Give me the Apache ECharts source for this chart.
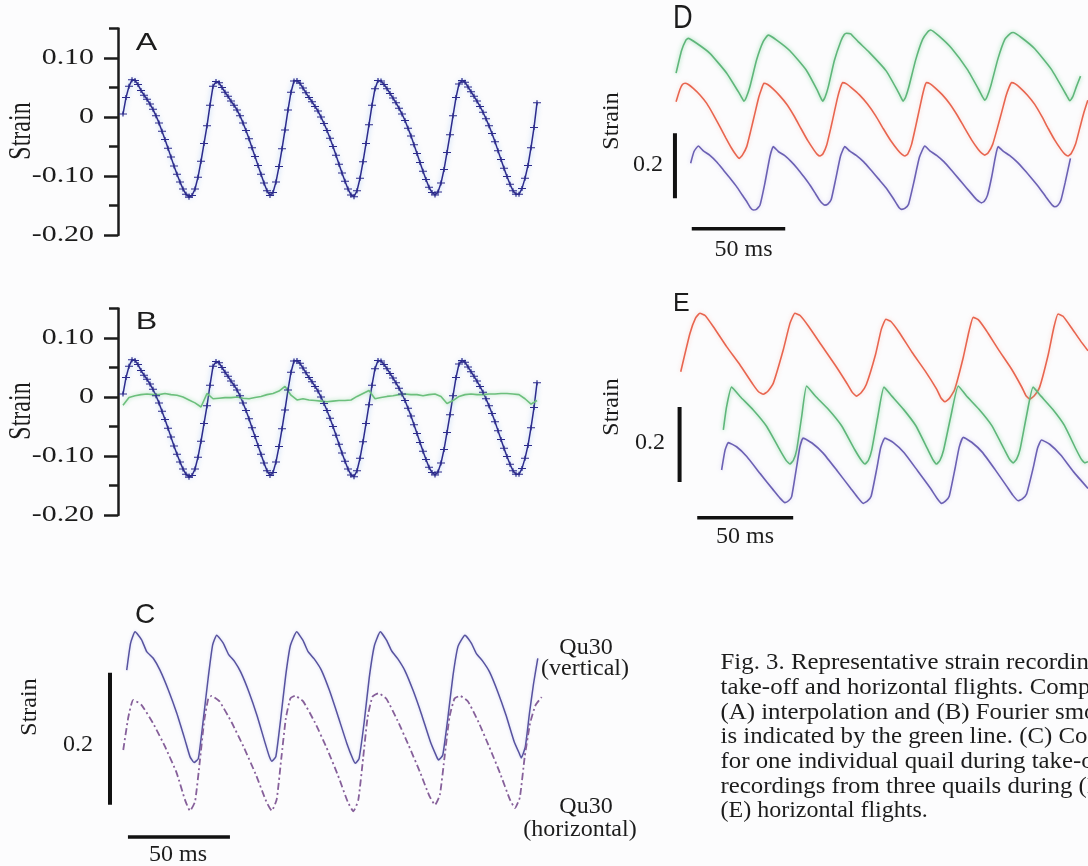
<!DOCTYPE html>
<html>
<head>
<meta charset="utf-8">
<script src="https://cdn.jsdelivr.net/npm/echarts@6/dist/echarts.min.js"></script>
<style>
  html, body { margin: 0; padding: 0; background: #fcfcfd; }
  #fig { width: 1088px; height: 866px; }
</style>
</head>
<body>
<div id="fig"></div>
<script>
// ---------- values ----------

// A / B: interpolated strain, one sample every 1.5 ms starting at t = 2.5 ms
const strainA = [
  0.005, 0.033, 0.052, 0.063, 0.062, 0.055, 0.045, 0.037, 0.030, 0.022,
  0.013, 0.002, -0.010, -0.024, -0.038, -0.053, -0.068, -0.083, -0.097, -0.110,
  -0.122, -0.131, -0.136, -0.133, -0.122, -0.102, -0.075, -0.045, -0.015, 0.020,
  0.052, 0.060, 0.058, 0.050, 0.042, 0.035, 0.027, 0.020, 0.012, 0.002,
  -0.010, -0.023, -0.037, -0.052, -0.067, -0.082, -0.097, -0.112, -0.125, -0.133,
  -0.128, -0.110, -0.084, -0.054, -0.022, 0.012, 0.042, 0.061, 0.062, 0.057,
  0.049, 0.041, 0.033, 0.026, 0.018, 0.010, 0.000, -0.011, -0.023, -0.036,
  -0.050, -0.065, -0.080, -0.095, -0.109, -0.122, -0.132, -0.135, -0.125, -0.104,
  -0.076, -0.045, -0.013, 0.020, 0.048, 0.062, 0.061, 0.055, 0.048, 0.040,
  0.032, 0.024, 0.015, 0.005, -0.006, -0.019, -0.032, -0.047, -0.062, -0.077,
  -0.092, -0.106, -0.119, -0.128, -0.132, -0.127, -0.112, -0.089, -0.060, -0.030,
  0.002, 0.033, 0.056, 0.062, 0.059, 0.051, 0.043, 0.035, 0.027, 0.018,
  0.008, -0.003, -0.015, -0.028, -0.042, -0.057, -0.072, -0.087, -0.101, -0.114,
  -0.125, -0.131, -0.131, -0.121, -0.104, -0.082, -0.052, -0.018, 0.024
];
const tStartA = 2.5, tStepA = 1.5;

// B: difference between interpolation and Fourier smoothing, every 3 ms from t = 2.5 ms
const residualB = [
  -0.014, -0.001, 0.002, 0.004, 0.005, 0.004, 0.004, 0.006, 0.004, 0.003,
  0.000, -0.005, -0.010, -0.017, 0.006, -0.003, -0.002, -0.001, -0.001, 0.000,
  -0.002, -0.003, -0.001, 0.001, 0.004, 0.006, 0.010, 0.018, 0.003, -0.005,
  -0.003, -0.005, -0.006, -0.007, -0.008, -0.007, -0.006, -0.006, -0.005, 0.001,
  0.006, 0.011, -0.003, -0.001, 0.001, 0.002, 0.004, 0.005, 0.004, 0.004,
  0.002, 0.004, 0.005, 0.001, -0.011, -0.006, 0.001, 0.004, 0.005, 0.004,
  0.004, 0.005, 0.005, 0.006, 0.006, 0.005, 0.004, -0.003, -0.012, -0.006
];
const tStepB = 3;

const yTicksAB = [-0.2, -0.1, 0, 0.1];
const yTickLabelsAB = ['-0.20', '-0.10', '0', '0.10'];
const yMinorTicksAB = [-0.15, -0.05, 0.05, 0.15];

// C: Qu30, [ms, strain]
const qu30Vertical = [
  [13.1, 0.021], [15.0, 0.062], [17.2, 0.079], [20.4, 0.067], [22.9, 0.049], [26.1, 0.039], [29.4, 0.021],
  [33.5, -0.009], [37.6, -0.044], [41.7, -0.085], [44.1, -0.110], [46.1, -0.119], [48.2, -0.113],
  [50.6, -0.055], [53.1, 0.011], [55.2, 0.059], [57.2, 0.074],
  [60.4, 0.062], [63.0, 0.045], [66.0, 0.034], [69.0, 0.018], [73.0, -0.012], [77.0, -0.048], [81.0, -0.090],
  [83.0, -0.110], [84.2, -0.117], [86.2, -0.110], [88.5, -0.055], [91.0, 0.012], [93.3, 0.058], [96.4, 0.079],
  [99.5, 0.066], [102.0, 0.049], [105.0, 0.038], [108.5, 0.021], [112.5, -0.010], [116.5, -0.047], [121.0, -0.090],
  [124.0, -0.114], [125.2, -0.120], [127.0, -0.113], [129.5, -0.058], [132.0, 0.010], [134.5, 0.058], [137.4, 0.079],
  [140.5, 0.066], [143.0, 0.050], [146.0, 0.038], [149.5, 0.020], [153.5, -0.010], [157.5, -0.045], [162.0, -0.088],
  [165.0, -0.110], [165.9, -0.115], [168.0, -0.108], [170.5, -0.052], [173.0, 0.012], [175.5, 0.057], [178.9, 0.074],
  [182.0, 0.062], [184.5, 0.046], [187.5, 0.035], [191.0, 0.018], [195.0, -0.012], [199.0, -0.047], [203.0, -0.087],
  [205.5, -0.105], [206.5, -0.112], [208.5, -0.095], [210.5, -0.045], [212.5, 0.000], [214.6, 0.039]
];
const qu30Horizontal = [
  [11.4, -0.100], [13.9, -0.050], [16.3, -0.024], [20.4, -0.032], [26.1, -0.060], [31.9, -0.095], [37.6, -0.135],
  [41.7, -0.176], [44.1, -0.192], [46.6, -0.178], [49.0, -0.115], [51.1, -0.055], [53.1, -0.022], [54.7, -0.018],
  [58.5, -0.026], [64.5, -0.058], [70.5, -0.096], [76.5, -0.138], [81.5, -0.178], [84.2, -0.192], [86.6, -0.175],
  [88.9, -0.112], [91.1, -0.052], [93.3, -0.022], [95.6, -0.018],
  [99.5, -0.026], [105.3, -0.058], [111.0, -0.096], [116.6, -0.138], [121.5, -0.179], [124.2, -0.193], [126.6, -0.176],
  [129.0, -0.112], [131.2, -0.050], [133.6, -0.019], [136.4, -0.014],
  [140.3, -0.022], [145.8, -0.055], [151.3, -0.093], [156.8, -0.133], [161.5, -0.170], [164.2, -0.183], [166.6, -0.168],
  [169.0, -0.108], [171.3, -0.050], [173.8, -0.022], [176.5, -0.018],
  [180.3, -0.026], [185.6, -0.058], [190.9, -0.096], [196.2, -0.136], [200.8, -0.174], [203.4, -0.188], [205.8, -0.172],
  [208.2, -0.110], [210.8, -0.060], [213.5, -0.032], [216.5, -0.020]
];

// D: take-off, three quails (traces offset), [ms, strain]
const takeoffGreen = [
  [8.6, 0.521], [11.5, 0.590], [13.8, 0.622], [15.1, 0.628], [19.6, 0.613], [26.7, 0.582], [35.7, 0.521],
  [41.9, 0.464], [43.6, 0.447], [44.9, 0.435], [46.2, 0.447], [48.1, 0.479], [51.7, 0.562], [55.2, 0.618], [57.9, 0.638],
  [62.4, 0.623], [69.5, 0.590], [78.3, 0.530], [84.2, 0.468], [85.7, 0.449], [87.0, 0.435], [88.3, 0.447],
  [90.0, 0.478], [93.3, 0.560], [96.8, 0.620], [98.6, 0.640], [99.8, 0.644],
  [102.0, 0.642], [106.0, 0.618], [112.0, 0.585], [121.0, 0.528], [127.2, 0.466], [128.8, 0.448], [130.1, 0.435],
  [131.4, 0.447], [133.2, 0.480], [136.8, 0.562], [140.5, 0.625], [143.2, 0.648], [144.8, 0.654],
  [149.2, 0.636], [156.0, 0.598], [164.5, 0.532], [170.6, 0.470], [172.4, 0.450], [173.8, 0.438], [175.1, 0.450],
  [177.0, 0.482], [180.8, 0.565], [184.5, 0.625], [187.4, 0.643], [188.9, 0.646],
  [193.5, 0.630], [200.5, 0.596], [209.5, 0.532], [216.0, 0.468], [217.9, 0.449], [219.3, 0.436], [220.8, 0.448],
  [222.7, 0.478], [225.0, 0.512]
];
const takeoffRed = [
  [8.6, 0.433], [10.6, 0.470], [12.0, 0.486], [13.4, 0.490], [15.2, 0.486], [17.8, 0.474], [21.4, 0.454],
  [25.0, 0.428], [28.6, 0.393], [32.1, 0.356], [35.2, 0.322], [38.3, 0.290], [40.6, 0.270], [42.4, 0.259],
  [44.0, 0.268], [46.4, 0.295], [48.6, 0.345], [50.8, 0.398], [52.8, 0.446], [54.4, 0.474], [55.6, 0.490],
  [57.6, 0.486], [60.2, 0.474], [64.0, 0.452], [68.0, 0.424], [72.0, 0.387], [75.5, 0.350], [79.0, 0.314],
  [82.3, 0.285], [84.0, 0.272], [85.6, 0.266], [87.2, 0.273], [89.2, 0.300], [91.3, 0.350], [93.3, 0.402],
  [95.1, 0.448], [96.5, 0.476], [97.7, 0.492],
  [99.8, 0.488], [102.5, 0.476], [106.6, 0.455], [111.0, 0.426], [115.5, 0.389], [119.5, 0.350], [123.5, 0.313],
  [127.3, 0.284], [129.3, 0.272], [131.0, 0.266], [132.6, 0.273], [134.6, 0.302], [136.6, 0.352], [138.6, 0.405],
  [140.3, 0.450], [141.5, 0.478], [142.6, 0.492],
  [144.6, 0.488], [147.2, 0.476], [151.0, 0.455], [155.0, 0.427], [159.2, 0.390], [163.0, 0.352], [166.8, 0.315],
  [170.2, 0.287], [172.1, 0.275], [173.8, 0.269], [175.6, 0.276], [178.0, 0.302], [180.5, 0.352], [183.0, 0.405],
  [185.2, 0.452], [186.8, 0.478], [188.1, 0.492],
  [190.1, 0.488], [192.7, 0.476], [196.5, 0.454], [200.5, 0.425], [204.3, 0.388], [207.8, 0.350], [211.3, 0.314],
  [214.7, 0.285], [216.6, 0.272], [218.3, 0.266], [220.0, 0.274], [222.3, 0.302], [224.6, 0.352], [226.8, 0.400],
  [228.9, 0.438]
];
const takeoffBlue = [
  [16.4, 0.244], [18.2, 0.280], [20.5, 0.297], [23.2, 0.282], [26.7, 0.268], [30.5, 0.247], [33.9, 0.223],
  [37.5, 0.198], [41.0, 0.172], [44.0, 0.146], [46.4, 0.126], [48.3, 0.108], [49.9, 0.100], [51.6, 0.102],
  [53.5, 0.115], [56.1, 0.182], [58.8, 0.264], [60.6, 0.295],
  [63.3, 0.280], [66.6, 0.268], [70.2, 0.249], [73.5, 0.228], [77.0, 0.202], [80.3, 0.176], [83.2, 0.150],
  [85.3, 0.131], [86.9, 0.120], [88.2, 0.115], [89.8, 0.118], [91.6, 0.132], [94.0, 0.195], [96.6, 0.266], [98.9, 0.295],
  [101.6, 0.281], [105.0, 0.268], [109.0, 0.248], [113.0, 0.222], [117.0, 0.195], [121.0, 0.168], [124.3, 0.140],
  [126.7, 0.118], [128.1, 0.106], [129.3, 0.102], [131.0, 0.105], [133.0, 0.118], [135.8, 0.185], [138.8, 0.262], [141.7, 0.297],
  [144.4, 0.282], [148.0, 0.268], [152.0, 0.248], [156.0, 0.222], [160.0, 0.195], [164.0, 0.168], [167.4, 0.145],
  [169.6, 0.131], [171.0, 0.125], [172.0, 0.122], [173.5, 0.127], [175.2, 0.145], [177.4, 0.200], [179.4, 0.262], [180.9, 0.295],
  [183.6, 0.281], [187.0, 0.268], [191.0, 0.248], [195.0, 0.223], [199.0, 0.196], [203.0, 0.168], [206.4, 0.141],
  [208.6, 0.124], [210.0, 0.114], [211.2, 0.110], [212.8, 0.114], [214.5, 0.130], [216.8, 0.185], [219.6, 0.259]
];

// E: horizontal flight, three quails (traces offset), [ms, strain]
const horizRed = [
  [10.8, 0.422], [15.6, 0.524], [18.5, 0.565], [20.8, 0.578], [23.5, 0.572], [27.8, 0.542], [34.7, 0.489],
  [41.7, 0.440], [48.6, 0.387], [51.5, 0.368], [53.8, 0.362], [56.2, 0.370], [59.0, 0.391], [64.2, 0.480],
  [67.7, 0.551], [70.3, 0.578],
  [73.0, 0.572], [77.3, 0.544], [84.5, 0.490], [91.5, 0.438], [97.5, 0.390], [100.2, 0.367], [102.4, 0.357],
  [104.8, 0.366], [107.5, 0.388], [112.3, 0.468], [115.3, 0.535], [117.7, 0.562],
  [120.3, 0.556], [124.5, 0.528], [131.3, 0.474], [138.3, 0.423], [144.2, 0.375], [146.4, 0.352], [148.4, 0.342],
  [150.8, 0.351], [153.5, 0.374], [158.0, 0.460], [161.0, 0.530], [163.2, 0.567],
  [165.8, 0.561], [170.0, 0.532], [176.6, 0.479], [183.3, 0.428], [188.6, 0.380], [190.7, 0.358], [192.7, 0.349],
  [195.0, 0.358], [197.8, 0.381], [202.3, 0.468], [205.2, 0.540], [207.4, 0.576],
  [210.0, 0.570], [214.3, 0.540], [219.0, 0.505], [223.0, 0.478]
];
const horizGreen = [
  [33.0, 0.267], [34.7, 0.329], [37.3, 0.381], [41.7, 0.356], [48.6, 0.320], [55.6, 0.276], [62.5, 0.213],
  [65.8, 0.185], [67.7, 0.176], [69.5, 0.186], [71.2, 0.213], [73.8, 0.302], [76.4, 0.384],
  [80.8, 0.358], [87.7, 0.322], [94.6, 0.278], [101.5, 0.214], [104.9, 0.186], [106.8, 0.176], [108.6, 0.186],
  [110.3, 0.213], [113.4, 0.300], [116.7, 0.381],
  [120.8, 0.357], [127.0, 0.321], [133.3, 0.278], [139.5, 0.215], [142.4, 0.186], [144.1, 0.176], [145.9, 0.186],
  [147.8, 0.214], [151.4, 0.300], [155.4, 0.384],
  [159.6, 0.358], [166.2, 0.322], [172.8, 0.279], [179.3, 0.216], [182.2, 0.188], [184.0, 0.179], [185.8, 0.189],
  [187.6, 0.215], [190.8, 0.300], [194.4, 0.381],
  [198.5, 0.357], [204.6, 0.322], [210.7, 0.279], [216.7, 0.216], [219.5, 0.189], [221.4, 0.179], [223.0, 0.182]
];
const horizBlue = [
  [32.1, 0.160], [33.9, 0.213], [35.6, 0.233], [39.9, 0.222], [45.2, 0.196], [52.1, 0.151], [59.0, 0.107],
  [62.5, 0.085], [65.1, 0.073], [67.0, 0.078], [68.6, 0.089], [71.2, 0.169], [72.9, 0.222], [74.6, 0.245],
  [79.2, 0.232], [85.0, 0.205], [92.3, 0.158], [99.2, 0.112], [102.8, 0.088], [105.9, 0.071], [108.0, 0.077],
  [110.0, 0.090], [113.0, 0.165], [115.0, 0.220], [117.2, 0.245],
  [121.6, 0.233], [127.2, 0.206], [134.2, 0.158], [140.8, 0.112], [144.0, 0.087], [146.7, 0.071], [148.7, 0.077],
  [150.7, 0.090], [153.8, 0.166], [155.9, 0.221], [158.0, 0.247],
  [162.4, 0.234], [168.0, 0.207], [174.6, 0.161], [180.6, 0.117], [183.8, 0.093], [186.6, 0.078], [188.8, 0.083],
  [191.0, 0.096], [194.5, 0.167], [196.7, 0.218], [198.8, 0.240],
  [203.2, 0.228], [208.8, 0.200], [215.5, 0.155], [223.0, 0.111]
];

// scale bars: 0.2 strain and 50 ms, in each panel's own units
const barC = { strain: [[4.9, 0.017], [4.9, -0.183]], time: [[13.7, -0.232], [63.7, -0.232]] };
const barD = { strain: [[8.0, 0.336], [8.0, 0.136]], time: [[17.0, 0.042], [67.0, 0.042]] };
const barE = { strain: [[10.2, 0.328], [10.2, 0.128]], time: [[19.4, 0.033], [69.4, 0.033]] };

const captionLines = [
  'Fig. 3. Representative strain recordings',
  'take-off and horizontal flights. Comparison',
  '(A) interpolation and (B) Fourier smoothing',
  'is indicated by the green line. (C) Comparison',
  'for one individual quail during take-off',
  'recordings from three quails during (D)',
  '(E) horizontal flights.'
];

// ---------- chart ----------
const serif = '"Liberation Serif", "Times New Roman", serif';
const sans = '"Liberation Sans", Arial, sans-serif';
const ink = '#1c1c1c';

const seriesA = strainA.map((v, i) => [tStartA + i * tStepA, v]);
const seriesResid = residualB.map((v, i) => [tStartA + i * tStepB, v]);

const plusMark = 'path://M0,3.4H8V4.6H0Z M3.4,1H4.6V7H3.4Z';

function interpTrace(data, xi, yi) {
  return {
    type: 'line', xAxisIndex: xi, yAxisIndex: yi, data,
    symbol: plusMark, symbolSize: [8, 5],
    itemStyle: { color: '#2c2b8c' },
    lineStyle: { color: '#2c2b8c', width: 1.5, shadowBlur: 5, shadowColor: 'rgba(90,150,230,0.55)' },
    silent: true, z: 3
  };
}
function trace(data, xi, yi, color, glow, extra) {
  return Object.assign({
    type: 'line', xAxisIndex: xi, yAxisIndex: yi, data,
    symbol: 'none', smooth: 0.15,
    lineStyle: { color, width: 1.6, shadowBlur: 4, shadowColor: glow },
    silent: true, z: 3
  }, extra || {});
}
function bar(data, xi, yi, w) {
  return {
    type: 'line', xAxisIndex: xi, yAxisIndex: yi, data, symbol: 'none',
    lineStyle: { color: '#111', width: w, cap: 'butt' }, silent: true, z: 5
  };
}
function majorAxis(g) {
  return {
    gridIndex: g, type: 'value', min: -0.2, max: 0.15, position: 'left',
    axisLine: { show: true, lineStyle: { color: ink, width: 2.5 } },
    axisTick: { show: true, inside: false, length: 14, customValues: yTicksAB, lineStyle: { color: ink, width: 2.5 } },
    axisLabel: { show: false }, splitLine: { show: false }
  };
}
function minorAxis(g) {
  return {
    gridIndex: g, type: 'value', min: -0.2, max: 0.15, position: 'left',
    axisLine: { show: false },
    axisTick: { show: true, inside: false, length: 9, customValues: yMinorTicksAB, lineStyle: { color: ink, width: 2.5 } },
    axisLabel: { show: false }, splitLine: { show: false }
  };
}
function hidden(g, min, max) {
  return { gridIndex: g, type: 'value', min, max, show: false };
}
function txt(text, x, y, size, opts) {
  const o = opts || {};
  return {
    type: 'text', x, y, rotation: o.rotation || 0, scaleX: o.scaleX || 1, scaleY: o.scaleY || 1,
    silent: true, z: 10,
    style: {
      text, font: size + 'px ' + (o.family || serif), fill: ink,
      align: o.align || 'center', textAlign: o.align || 'center',
      verticalAlign: 'middle', textVerticalAlign: 'middle'
    }
  };
}

const graphics = [
  txt('A', 135.7, 43.3, 23, { family: sans, align: 'left', scaleX: 1.4 }),
  txt('B', 135.7, 322.5, 23, { family: sans, align: 'left', scaleX: 1.4 }),
  txt('C', 135, 615, 28, { family: sans, align: 'left' }),
  txt('D', 673, 18.3, 34, { family: sans, align: 'left', scaleX: 0.8 }),
  txt('E', 673, 304, 25, { family: sans, align: 'left' }),
  txt('Strain', 22, 131, 24, { rotation: Math.PI / 2, scaleY: 1.3 }),
  txt('Strain', 22, 411, 24, { rotation: Math.PI / 2, scaleY: 1.3 }),
  txt('Strain', 30, 707, 24, { rotation: Math.PI / 2 }),
  txt('Strain', 612, 121, 24, { rotation: Math.PI / 2 }),
  txt('Strain', 612, 407, 24, { rotation: Math.PI / 2 }),
  txt('0.2', 78, 745, 24),
  txt('50 ms', 178, 855, 24),
  txt('0.2', 648, 165, 24),
  txt('50 ms', 743.5, 250, 24),
  txt('0.2', 650, 443, 24),
  txt('50 ms', 745, 537, 24),
  txt('Qu30', 586, 648, 24),
  txt('(vertical)', 585, 669, 24),
  txt('Qu30', 586, 807, 24),
  txt('(horizontal)', 580, 830, 24)
];
// justified caption: full lines are slightly wider than the natural setting
captionLines.forEach((line, i) => {
  const justified = i < captionLines.length - 1;
  graphics.push(txt(line, 720.5, 663 + i * 24.7, 24, { align: 'left', scaleX: justified ? 1.035 : 1 }));
});

const option = {
  backgroundColor: '#fcfcfd',
  animation: false,
  grid: [
    { left: 118, top: 28.5, width: 430, height: 206.5 },
    { left: 118, top: 308.5, width: 430, height: 206.5 },
    { left: 100, top: 618, width: 459, height: 231 },
    { left: 660, top: 15, width: 428, height: 227.5 },
    { left: 660, top: 290, width: 428, height: 240 }
  ],
  xAxis: [hidden(0, 0, 215), hidden(1, 0, 215), hidden(2, 0, 225), hidden(3, 0, 229), hidden(4, 0, 223)],
  yAxis: [
    majorAxis(0), minorAxis(0), majorAxis(1), minorAxis(1),
    hidden(2, -0.25, 0.10), hidden(3, 0, 0.7), hidden(4, 0, 0.64)
  ],
  series: [
    interpTrace(seriesA, 0, 0),
    interpTrace(seriesA, 1, 2),
    trace(seriesResid, 1, 2, '#6cbf7c', 'rgba(130,215,150,0.7)', { smooth: false }),
    trace(qu30Vertical, 2, 4, '#57529f', '', { lineStyle: { color: '#57529f', width: 1.5, shadowBlur: 3, shadowColor: 'rgba(140,150,220,0.4)' } }),
    trace(qu30Horizontal, 2, 4, '#86609a', '', { lineStyle: { color: '#86609a', width: 1.8, type: [7, 3, 2, 3] } }),
    trace(takeoffGreen, 3, 5, '#5fb67a', 'rgba(120,210,150,0.8)'),
    trace(takeoffRed, 3, 5, '#e8654f', 'rgba(240,150,130,0.4)'),
    trace(takeoffBlue, 3, 5, '#6b60b3', 'rgba(150,140,220,0.4)'),
    trace(horizRed, 4, 6, '#e8654f', 'rgba(240,150,130,0.4)'),
    trace(horizGreen, 4, 6, '#5fb67a', 'rgba(120,210,150,0.8)'),
    trace(horizBlue, 4, 6, '#6b60b3', 'rgba(150,140,220,0.4)'),
    bar(barC.strain, 2, 4, 4), bar(barC.time, 2, 4, 3.5),
    bar(barD.strain, 3, 5, 4), bar(barD.time, 3, 5, 3.5),
    bar(barE.strain, 4, 6, 4), bar(barE.time, 4, 6, 3.5)
  ],
  graphic: graphics
};

const chart = echarts.init(document.getElementById('fig'), null, { renderer: 'canvas' });
chart.setOption(option);

// tick labels of A and B, placed through the y scale (figure text is horizontally stretched)
const tickLabels = [];
[0, 2].forEach(yi => {
  yTicksAB.forEach((v, i) => {
    const py = chart.convertToPixel({ yAxisIndex: yi }, v);
    tickLabels.push(txt(yTickLabelsAB[i], 94, py, 23, { align: 'right', scaleX: 1.3 }));
  });
});
chart.setOption({ graphic: graphics.concat(tickLabels) });
</script>
</body>
</html>
